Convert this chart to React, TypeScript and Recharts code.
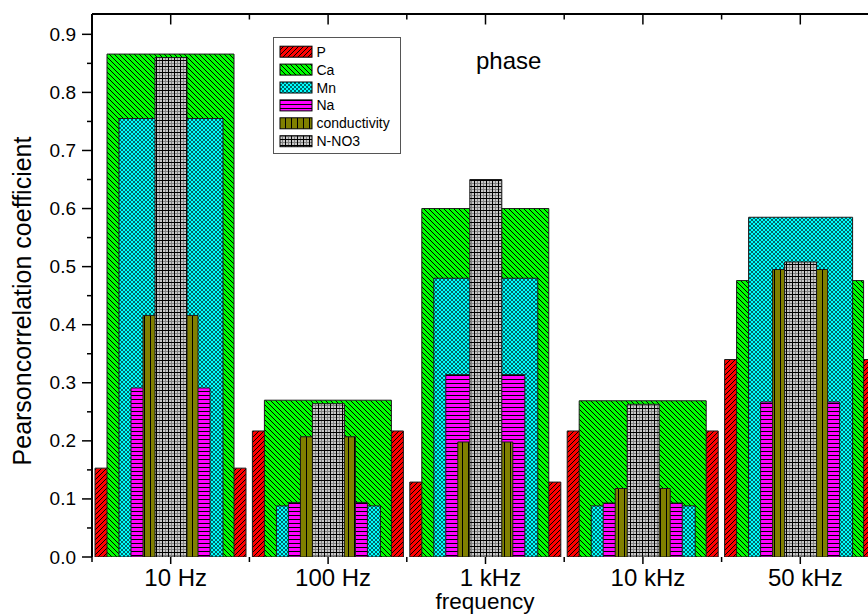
import React from 'react';
import { BarChart, Bar, XAxis, YAxis, Customized } from 'recharts';

const categories = ['10 Hz', '100 Hz', '1 kHz', '10 kHz', '50 kHz'];
const seriesNames = ['P', 'Ca', 'Mn', 'Na', 'conductivity', 'N-NO3'];
const P = [0.153, 0.217, 0.129, 0.217, 0.340];
const Ca = [0.866, 0.270, 0.600, 0.269, 0.476];
const Mn = [0.755, 0.088, 0.480, 0.088, 0.585];
const Na = [0.291, 0.094, 0.314, 0.093, 0.267];
const conductivity = [0.416, 0.207, 0.198, 0.118, 0.495];
const NNO3 = [0.860, 0.264, 0.650, 0.263, 0.508];
const yTicks = [0, 0.05, 0.1, 0.15, 0.2, 0.25, 0.3, 0.35, 0.4, 0.45, 0.5, 0.55, 0.6, 0.65, 0.7, 0.75, 0.8, 0.85, 0.9];

const seriesValues = [P, Ca, Mn, Na, conductivity, NNO3];
const keys = ['P', 'Ca', 'Mn', 'Na', 'conductivity', 'NNO3'];
const data = categories.map((c, i) => {
  const row: any = { cat: c };
  keys.forEach((k, j) => { row[k] = seriesValues[j][i]; });
  return row;
});

const patIds = ['patP', 'patCa', 'patMn', 'patNa', 'patCond', 'patN'];
const barSizes = [151, 127, 104, 79, 55, 32];

const FONT = '"Liberation Sans", Arial, sans-serif';
const W = 890;
const H = 615;
const M = { top: 13, right: 11, left: 32, bottom: 28 };
const YW = 60;
const XH = 30;
const TOPH = 1;
const PLOT_LEFT = M.left + YW;
const PLOT_W = W - M.left - M.right - YW;
const BAND = PLOT_W / categories.length;
const PLOT_BOTTOM = H - M.bottom - XH;
const PLOT_TOP = M.top + TOPH;

const YTick = (props: any) => {
  const { x, y, payload } = props;
  const v = payload.value;
  const major = Math.round(v * 100) % 10 === 0;
  return (
    <g>
      <line x1={x - (major ? 10 : 5)} x2={x} y1={y} y2={y} stroke="#000" strokeWidth={1.5} />
      {major && (
        <text x={x - 16} y={y} dy={6.5} textAnchor="end" fontSize={19} fill="#000" fontFamily={FONT}>
          {v.toFixed(1)}
        </text>
      )}
    </g>
  );
};

const BottomTick = (props: any) => {
  const { x, payload } = props;
  const y = PLOT_BOTTOM;
  return (
    <text x={x + 5} y={y + 29} textAnchor="middle" fontSize={24} fill="#000" fontFamily={FONT}>
      {payload.value}
    </text>
  );
};

const Extras = () => {
  const b = PLOT_BOTTOM;
  const t = PLOT_TOP;
  return (
    <g fontFamily={FONT}>
      {categories.map((c, i) => {
        const cx = PLOT_LEFT + BAND * (i + 0.5);
        const lx = PLOT_LEFT + BAND * i;
        return (
          <g key={'tk' + c}>
            <line x1={cx} x2={cx} y1={b} y2={b + 7} stroke="#000" strokeWidth={1.5} />
            <line x1={lx} x2={lx} y1={b} y2={b + 5} stroke="#000" strokeWidth={1.5} />
            <line x1={cx} x2={cx} y1={t} y2={t + 10.5} stroke="#000" strokeWidth={1.5} />
            <line x1={lx} x2={lx} y1={t} y2={t + 5.5} stroke="#000" strokeWidth={1.5} />
          </g>
        );
      })}
      <text x={476} y={69} fontSize={24} fill="#000">phase</text>
      <text
        x={31}
        y={301}
        fontSize={25}
        fill="#000"
        textAnchor="middle"
        transform="rotate(-90 31 301)"
      >
        Pearsoncorrelation coefficient
      </text>
      <text x={485} y={609} fontSize={22.5} fill="#000" textAnchor="middle">frequency</text>
      <g transform="translate(273,37)">
        <rect x={0.5} y={0.5} width={127} height={116} fill="#fff" stroke="#555" strokeWidth={1} />
        {seriesNames.map((n, i) => {
          const cy = 14.7 + i * 17.9;
          return (
            <g key={n}>
              <rect x={7} y={cy - 5.5} width={32} height={11} fill={`url(#${patIds[i]})`} stroke="#000" strokeWidth={1} />
              <text x={43.5} y={cy + 5} fontSize={14} fill="#000">{n}</text>
            </g>
          );
        })}
      </g>
    </g>
  );
};

export default function App() {
  return (
    <div style={{ position: 'absolute', left: 0, top: 0, width: 868, height: 615, overflow: 'hidden', background: '#fff' }}>
      <BarChart width={W} height={H} data={data} margin={M}>
        <defs>
          <pattern id="patP" width={5} height={5} patternUnits="userSpaceOnUse">
            <rect width={5} height={5} fill="#ff0000" />
            <path d="M-1,1 L1,-1 M0,5 L5,0 M4,6 L6,4" stroke="#000" strokeWidth={1} />
          </pattern>
          <pattern id="patCa" width={5} height={5} patternUnits="userSpaceOnUse">
            <rect width={5} height={5} fill="#00ff00" />
            <path d="M-1,4 L1,6 M0,0 L5,5 M4,-1 L6,1" stroke="#000" strokeWidth={1} />
          </pattern>
          <pattern id="patMn" width={4} height={4} patternUnits="userSpaceOnUse">
            <rect width={4} height={4} fill="#00ffff" />
            <path d="M0,0 L4,4 M4,0 L0,4" stroke="#000" strokeWidth={0.6} />
          </pattern>
          <pattern id="patNa" width={4} height={4} patternUnits="userSpaceOnUse">
            <rect width={4} height={4} fill="#ff00ff" />
            <rect y={3} width={4} height={1} fill="#000" />
          </pattern>
          <pattern id="patCond" width={6} height={6} patternUnits="userSpaceOnUse">
            <rect width={6} height={6} fill="#808000" />
            <rect x={0} width={1} height={6} fill="#000" />
          </pattern>
          <pattern id="patN" width={6} height={6} patternUnits="userSpaceOnUse">
            <rect width={6} height={6} fill="#c8c8c8" />
            <rect x={3} width={1} height={6} fill="#808080" />
            <rect y={3} width={6} height={1} fill="#808080" />
            <rect x={0} width={1} height={6} fill="#000" />
            <rect y={0} width={6} height={1} fill="#000" />
          </pattern>
        </defs>
        {keys.map((k, i) => (
          <XAxis key={'ax' + k} xAxisId={'a' + i} dataKey="cat" hide />
        ))}
        <XAxis
          xAxisId="bottom"
          dataKey="cat"
          orientation="bottom"
          height={XH}
          tickSize={0}
          tickMargin={0}
          tickLine={false}
          interval={0}
          axisLine={{ stroke: '#000', strokeWidth: 2 }}
          tick={<BottomTick />}
        />
        <XAxis
          xAxisId="top"
          dataKey="cat"
          orientation="top"
          height={TOPH}
          tick={false}
          tickLine={false}
          axisLine={{ stroke: '#000', strokeWidth: 2 }}
        />
        <YAxis
          width={YW}
          domain={[0, 0.935]}
          ticks={yTicks}
          interval={0}
          allowDataOverflow
          tickSize={0}
          tickMargin={0}
          tickLine={false}
          axisLine={{ stroke: '#000', strokeWidth: 2 }}
          tick={<YTick />}
        />
        {keys.map((k, i) => (
          <Bar
            key={k}
            dataKey={k}
            name={seriesNames[i]}
            xAxisId={'a' + i}
            barSize={barSizes[i]}
            fill={`url(#${patIds[i]})`}
            stroke="#1a1a1a"
            strokeWidth={1}
            isAnimationActive={false}
          />
        ))}
        <Customized component={Extras} />
      </BarChart>
    </div>
  );
}
